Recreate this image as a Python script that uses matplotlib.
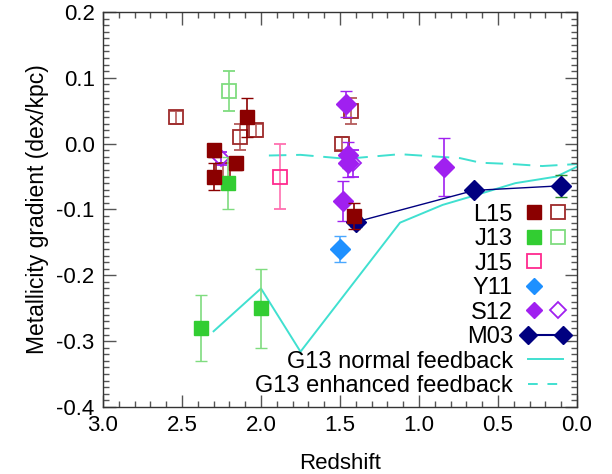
import matplotlib
matplotlib.use("Agg")
import matplotlib.pyplot as plt
from matplotlib.lines import Line2D
from matplotlib.legend_handler import HandlerTuple, HandlerLine2D

plt.rcParams["font.family"] = ["Liberation Sans", "DejaVu Sans"]

# L15 (filled / open)
l15_z = [2.30, 2.30, 2.16, 2.09, 1.41]
l15_g = [-0.01, -0.05, -0.03, 0.04, -0.11]
l15_e = [0.01, 0.02, 0.01, 0.03, 0.02]
l15o_z = [2.54, 2.13, 2.03, 2.24, 1.49, 1.43]
l15o_g = [0.04, 0.01, 0.02, -0.04, 0.0, 0.05]
l15o_e = [0.01, 0.02, 0.01, 0.01, 0.01, 0.02]

# J13 (filled / open)
j13_z = [2.38, 2.21, 2.00]
j13_g = [-0.28, -0.06, -0.25]
j13_e = [0.05, 0.04, 0.06]
j13o_z = [2.20]
j13o_g = [0.08]
j13o_e = [0.03]

# J15
j15_z = [1.88]
j15_g = [-0.05]
j15_e = [0.05]

# Y11
y11_z = [1.50]
y11_g = [-0.16]
y11_e = [0.02]

# S12 (filled / open)
s12_z = [1.46, 1.45, 1.45, 1.48, 0.84]
s12_g = [0.06, -0.017, -0.03, -0.087, -0.036]
s12_e = [0.02, 0.02, 0.02, 0.03, 0.044]
s12o_z = [2.25, 1.42]
s12o_g = [-0.022, -0.03]
s12o_e = [0.01, 0.02]

# M03
m03_z = [1.40, 0.65, 0.10]
m03_g = [-0.119, -0.071, -0.064]
m03_e = [0.007, 0.0, 0.017]

# G13 model tracks
g13n_z = [2.30, 2.00, 1.75, 1.12, 0.85, 0.68, 0.39, 0.13, 0.0]
g13n_g = [-0.285, -0.22, -0.316, -0.12, -0.093, -0.081, -0.06, -0.05, -0.035]
g13e_z = [1.95, 1.75, 1.46, 1.12, 0.74, 0.61, 0.41, 0.22, 0.0]
g13e_g = [-0.018, -0.017, -0.023, -0.016, -0.022, -0.029, -0.031, -0.034, -0.031]

c_l15 = "#8b0000"
c_l15o = "#9e2a2a"
c_j13 = "#32cd32"
c_j13o = "#7fdc7f"
c_j15 = "#ff2a8f"
c_y11 = "#1e90ff"
c_s12 = "#a020f0"
c_m03 = "#000080"
c_g13 = "#40e0d0"

fig = plt.figure(figsize=(6.12, 4.74), dpi=100)
ax = fig.add_axes([0.1683, 0.1414, 0.7745, 0.8333])

ax.plot(g13n_z, g13n_g, color=c_g13, lw=1.4, zorder=1)
ax.plot(g13e_z, g13e_g, color=c_g13, lw=1.4, ls=(0, (9, 5)), zorder=1)

ms = 10
ax.errorbar(l15o_z, l15o_g, yerr=l15o_e, fmt="s", ms=ms, mfc="none", mec=c_l15o,
            mew=1.3, ecolor="#b45a5a", elinewidth=1.2, capsize=4, zorder=3)
ax.errorbar(j13o_z, j13o_g, yerr=j13o_e, fmt="s", ms=ms, mfc="none", mec=c_j13o,
            mew=1.3, ecolor=c_j13o, elinewidth=1.2, capsize=4, zorder=3)
ax.errorbar(j15_z, j15_g, yerr=j15_e, fmt="s", ms=ms, mfc="none", mec=c_j15,
            mew=1.3, ecolor="#ff6fb0", elinewidth=1.2, capsize=4, zorder=3)
ax.errorbar(s12o_z, s12o_g, yerr=s12o_e, fmt="D", ms=8, mfc="none", mec=c_s12,
            mew=1.3, ecolor=c_s12, elinewidth=1.2, capsize=4, zorder=3)
ax.errorbar(j13_z, j13_g, yerr=j13_e, fmt="s", ms=ms, color=c_j13,
            ecolor=c_j13o, elinewidth=1.2, capsize=4, zorder=4)
ax.errorbar(y11_z, y11_g, yerr=y11_e, fmt="D", ms=ms, color=c_y11,
            ecolor="#4aa8ff", elinewidth=1.2, capsize=4, zorder=4)
ax.errorbar(s12_z, s12_g, yerr=s12_e, fmt="D", ms=ms, color=c_s12,
            ecolor=c_s12, elinewidth=1.2, capsize=4, zorder=4)
ax.errorbar(m03_z, m03_g, yerr=m03_e, fmt="D-", ms=ms, color=c_m03, lw=1.0,
            ecolor="#2e8b2e", elinewidth=1.0, capsize=4, zorder=4)
ax.errorbar(l15_z, l15_g, yerr=l15_e, fmt="s", ms=ms, color=c_l15,
            ecolor=c_l15, elinewidth=1.2, capsize=4, zorder=5)

ax.set_xlim(3.0, 0.0)
ax.set_ylim(-0.4, 0.2)
ax.set_xticks([3.0, 2.5, 2.0, 1.5, 1.0, 0.5, 0.0])
ax.set_xticks([3.0 - 0.1 * i for i in range(31)], minor=True)
ax.set_yticks([0.2, 0.1, 0.0, -0.1, -0.2, -0.3, -0.4])
ax.set_yticks([-0.4 + 0.01 * i for i in range(61)], minor=True)
ax.set_xticklabels(["3.0", "2.5", "2.0", "1.5", "1.0", "0.5", "0.0"])
ax.set_yticklabels(["0.2", "0.1", "0.0", "-0.1", "-0.2", "-0.3", "-0.4"])
ax.tick_params(which="both", direction="in", top=True, right=True,
               color="#555555", labelsize=16, width=1.0)
ax.tick_params(which="major", length=9, pad=6)
ax.tick_params(which="minor", length=4.5)
for sp in ax.spines.values():
    sp.set_color("#333333")
    sp.set_linewidth(1.0)

ax.set_xlabel("Redshift", fontsize=16, labelpad=12)
ax.set_ylabel("Metallicity gradient (dex/kpc)", fontsize=16.5, labelpad=5)

blank = Line2D([], [], ls="none", marker="")
h_l15 = (Line2D([], [], ls="none", marker="s", ms=ms, color=c_l15),
         Line2D([], [], ls="none", marker="s", ms=ms, mfc="none", mec=c_l15o, mew=1.3))
h_j13 = (Line2D([], [], ls="none", marker="s", ms=ms, color=c_j13),
         Line2D([], [], ls="none", marker="s", ms=ms, mfc="none", mec=c_j13o, mew=1.3))
h_j15 = (Line2D([], [], ls="none", marker="s", ms=ms, mfc="none", mec=c_j15, mew=1.3), blank)
h_y11 = (Line2D([], [], ls="none", marker="D", ms=8, color=c_y11), blank)
h_s12 = (Line2D([], [], ls="none", marker="D", ms=8, color=c_s12),
         Line2D([], [], ls="none", marker="D", ms=8, mfc="none", mec=c_s12, mew=1.3))
h_m03 = Line2D([], [], marker="D", ms=9, color=c_m03, lw=1.5)
h_g13n = Line2D([], [], color=c_g13, lw=1.4)
h_g13e = Line2D([], [], color=c_g13, lw=1.4, ls=(0, (5, 5)))

ax.legend([h_l15, h_j13, h_j15, h_y11, h_s12, h_m03, h_g13n, h_g13e],
          ["L15", "J13", "J15", "Y11", "S12", "M03",
           "G13 normal feedback", "G13 enhanced feedback"],
          handler_map={tuple: HandlerTuple(ndivide=None, pad=0.55),
                       h_m03: HandlerLine2D(numpoints=2, marker_pad=0)},
          loc="lower right", bbox_to_anchor=(0.9705, 0.025), frameon=False,
          markerfirst=False, fontsize=17, handlelength=1.48, handletextpad=0.64,
          labelspacing=0.105, borderpad=0.0, borderaxespad=0.0)

fig.savefig("out.png", dpi=100)
